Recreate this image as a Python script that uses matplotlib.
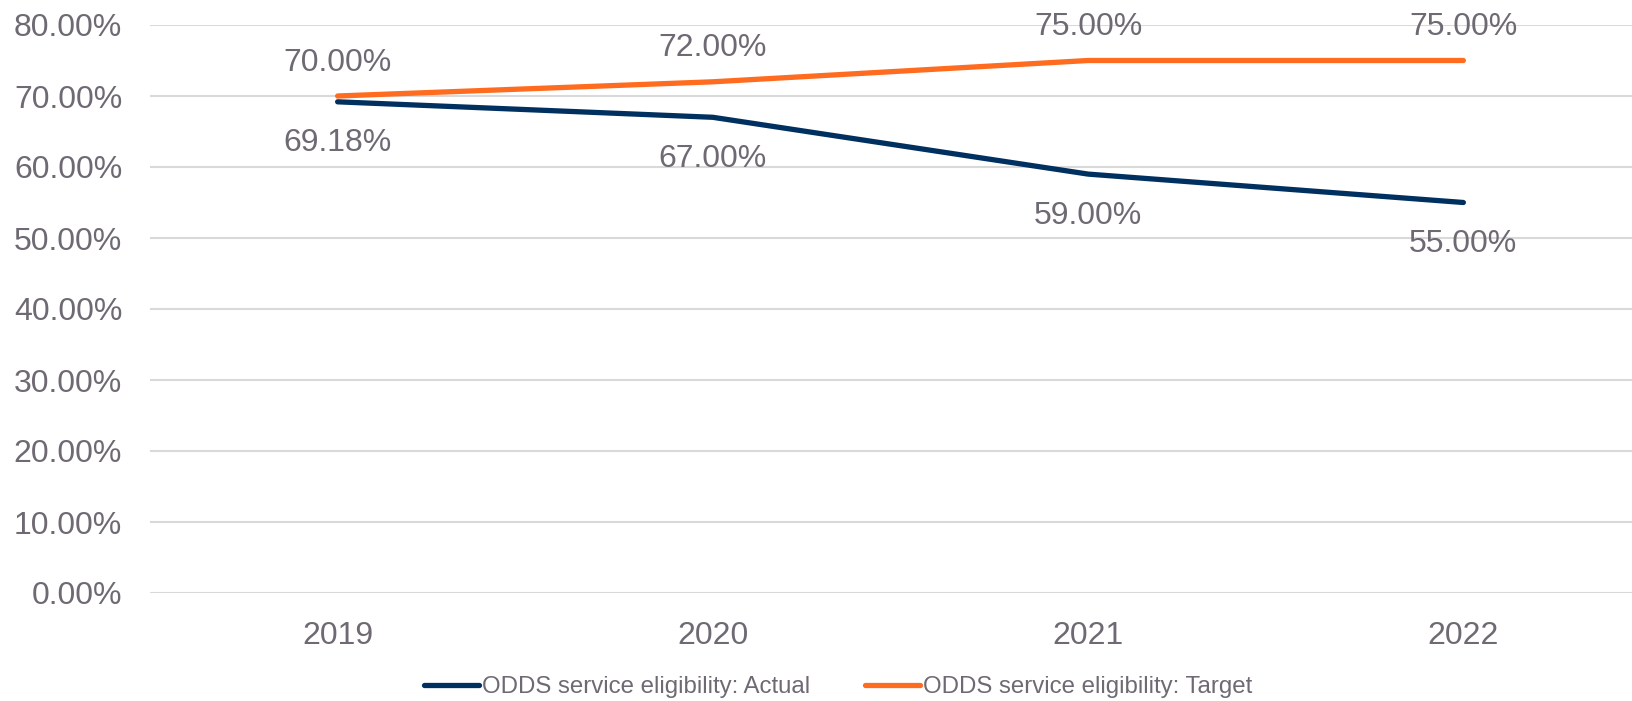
import numpy as np
import matplotlib
matplotlib.use('Agg')
import matplotlib.pyplot as plt
from matplotlib.ticker import PercentFormatter

years = ['2019', '2020', '2021', '2022']
actual = [69.18, 67.00, 59.00, 55.00]
target = [70.00, 72.00, 75.00, 75.00]
yticks = [0, 10, 20, 30, 40, 50, 60, 70, 80]

navy = '#00305F'
orange = '#FF6B1F'
grey_txt = '#6E6973'

plt.rcParams['font.family'] = ['Liberation Sans', 'DejaVu Sans']

fig = plt.figure(figsize=(16.32, 7.01), dpi=100)
ax = fig.add_axes([150/1632, 108/701, 1501/1632, 568/701])

x = np.arange(len(years))
ax.plot(x, actual, color=navy, lw=3.8, solid_capstyle='round',
        label='ODDS service eligibility: Actual', zorder=3)
ax.plot(x, target, color=orange, lw=3.8, solid_capstyle='round',
        label='ODDS service eligibility: Target', zorder=3)

# data labels: actual below the line, target above
for xi, v in zip(x, actual):
    ax.annotate('%.2f%%' % v, (xi, v), xytext=(0, -30), textcoords='offset points',
                ha='center', va='center', fontsize=23, color=grey_txt)
for xi, v in zip(x, target):
    ax.annotate('%.2f%%' % v, (xi, v), xytext=(0, 24), textcoords='offset points',
                ha='center', va='center', fontsize=23, color=grey_txt)

ax.set_xlim(-0.5, 3.5)
ax.set_ylim(0, 80)
ax.set_yticks(yticks)
ax.yaxis.set_major_formatter(PercentFormatter(decimals=2))
ax.set_xticks(x)
ax.set_xticklabels(years)
ax.tick_params(axis='both', length=0, labelsize=23, labelcolor=grey_txt)
ax.tick_params(axis='y', pad=20)
ax.tick_params(axis='x', pad=20)
ax.grid(axis='y', color='#D9D9D9', lw=1.5)
ax.set_axisbelow(True)
for s in ax.spines.values():
    s.set_visible(False)

leg = fig.legend(loc='center', bbox_to_anchor=(838/1632, 1 - 687/701), ncol=2,
                 frameon=False, fontsize=17.3, labelcolor=grey_txt,
                 handlelength=2.3, handletextpad=0.1, columnspacing=2.3)

fig.savefig('out.png', dpi=100)
